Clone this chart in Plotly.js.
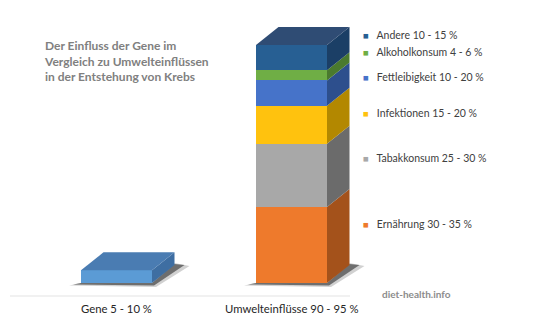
<!DOCTYPE html>
<html>
<head>
<meta charset="utf-8">
<script src="https://cdn.plot.ly/plotly-3.0.1.min.js"></script>
<style>html,body{margin:0;padding:0;background:#fff;}#chart{width:539px;height:323px;}</style>
</head>
<body>
<div id="chart"></div>
<script>
// ---- data ----
const categories = ['Gene 5 - 10 %', 'Umwelteinflüsse 90 - 95 %'];
const geneValue = [5];
const factors = ['Ernährung', 'Tabakkonsum', 'Infektionen', 'Fettleibigkeit', 'Alkoholkonsum', 'Andere'];
const factorValues = [30, 25, 15, 10, 4, 10];
const factorRanges = ['30 - 35 %', '25 - 30 %', '15 - 20 %', '10 - 20 %', '4 - 6 %', '10 - 15 %'];
const titleLines = ['Der Einfluss der Gene im', 'Vergleich zu Umwelteinflüssen', 'in der Entstehung von Krebs'];
const watermark = 'diet-health.info';

// ---- styles ----
const frontColors = ['#ee7a2c', '#a8a8a8', '#ffc20e', '#4673c9', '#6fae45', '#275f93'];
const sideColors  = ['#a4521b', '#6b6b6b', '#b38800', '#2d4f8d', '#4a7a2e', '#1b3f66'];
const topColor = '#2f4c74';
const geneFront = '#5b9bd5', geneSide = '#3e6ea2', geneTop = '#4a7cb2';
const legendY = [224, 158, 113, 77, 52, 34.5]; // px from top, per factor

const W = 539, H = 323;
const xRange = [-116.5/175, -116.5/175 + W/175];
const yPx = 2.532, yRange = [-(H-283)/yPx, 283/yPx];
const px2x = p => p*(xRange[1]-xRange[0])/W;
const px2y = p => p*(yRange[1]-yRange[0])/H;
const barW = px2x(71), dX = px2x(22.5), dY = px2y(18);

const traces = [];
function poly(xs, ys, color, name){
  traces.push({type:'scatter', mode:'lines', x: xs.concat([xs[0]]), y: ys.concat([ys[0]]),
    fill:'toself', fillcolor: color, line:{width:0, color: color}, hoverinfo:'skip', showlegend:false, name: name||''});
}
function shadow(cx){
  const xl = cx - barW/2, xr = cx + barW/2;
  poly([xl-px2x(12), xr+px2x(4), xr+dX+px2x(15), xr+dX, xr, xl],
       [-px2y(2.5), -px2y(4), dY-px2y(1), dY+px2y(2), 0, 0], 'rgba(0,0,0,0.18)');
  poly([xl-px2x(8), xr+px2x(2), xr+dX+px2x(10), xr+dX, xr, xl],
       [-px2y(1.5), -px2y(2.5), dY, dY+px2y(1), 0, 0], 'rgba(30,30,30,0.55)');
}
function box3d(cx, base, top, side, topc){
  const xr = cx + barW/2, xl = cx - barW/2;
  poly([xr, xr+dX, xr+dX, xr], [base, base+dY, top+dY, top], side);
  if (topc) poly([xl, xl+dX, xr+dX, xr], [top, top+dY, top+dY, top], topc);
}

// front faces via bar traces
traces.push({type:'bar', x:[0], y:geneValue, width:[barW], marker:{color:geneFront, line:{width:0}},
  name:categories[0], showlegend:false, hoverinfo:'skip'});
factors.forEach((f,i)=>{
  traces.push({type:'bar', x:[1], y:[factorValues[i]], width:[barW], marker:{color:frontColors[i], line:{width:0}},
    name:f, showlegend:false, hoverinfo:'skip'});
});

// shadows
shadow(0); shadow(1);
// gene side/top
box3d(0, 0, geneValue[0], geneSide, geneTop);
// environment stack side/top
let cum = 0;
factors.forEach((f,i)=>{
  const b = cum; cum += factorValues[i];
  box3d(1, b, cum, sideColors[i], i === factors.length-1 ? topColor : null);
});

const annotations = [];
annotations.push({xref:'paper', yref:'paper', x:42/W, y:1-61/H, xanchor:'left', yanchor:'middle', align:'left',
  showarrow:false, text: titleLines.map(t=>'<b>'+t+'</b>').join('<br>'),
  font:{family:'Lato, sans-serif', size:12, color:'#808080'}});
categories.forEach((c,i)=>{
  annotations.push({xref:'x', yref:'paper', x:i, y:1-308/H, xanchor:'center', yanchor:'middle', showarrow:false,
    text:c, font:{family:'Lato, sans-serif', size:11.3, color:'#262626'}});
});
factors.forEach((f,i)=>{
  annotations.push({xref:'paper', yref:'paper', x:361/W, y:1-legendY[i]/H, xanchor:'left', yanchor:'middle', showarrow:false,
    text:'<span style="color:'+frontColors[i]+';font-size:9.5px">■</span>   '+f+' '+factorRanges[i],
    font:{family:'Lato, sans-serif', size:10.5, color:'#404040'}});
});
annotations.push({xref:'paper', yref:'paper', x:380/W, y:1-294/H, xanchor:'left', yanchor:'middle', showarrow:false,
  text:'<b>'+watermark+'</b>', font:{family:'Lato, sans-serif', size:10, color:'#8c8c8c'}});

const layout = {
  width:W, height:H, margin:{l:0,r:0,t:0,b:0}, paper_bgcolor:'#fff', plot_bgcolor:'#fff',
  barmode:'stack', bargap:0, showlegend:false,
  xaxis:{range:xRange, visible:false, fixedrange:true},
  yaxis:{range:yRange, visible:false, fixedrange:true},
  shapes:[{type:'line', xref:'paper', yref:'paper', x0:10/W, x1:350/W, y0:1-296/H, y1:1-296/H,
    line:{color:'#e3e3e3', width:1}}],
  annotations: annotations
};
Plotly.newPlot('chart', traces, layout, {staticPlot:true, displayModeBar:false});
</script>
</body>
</html>
